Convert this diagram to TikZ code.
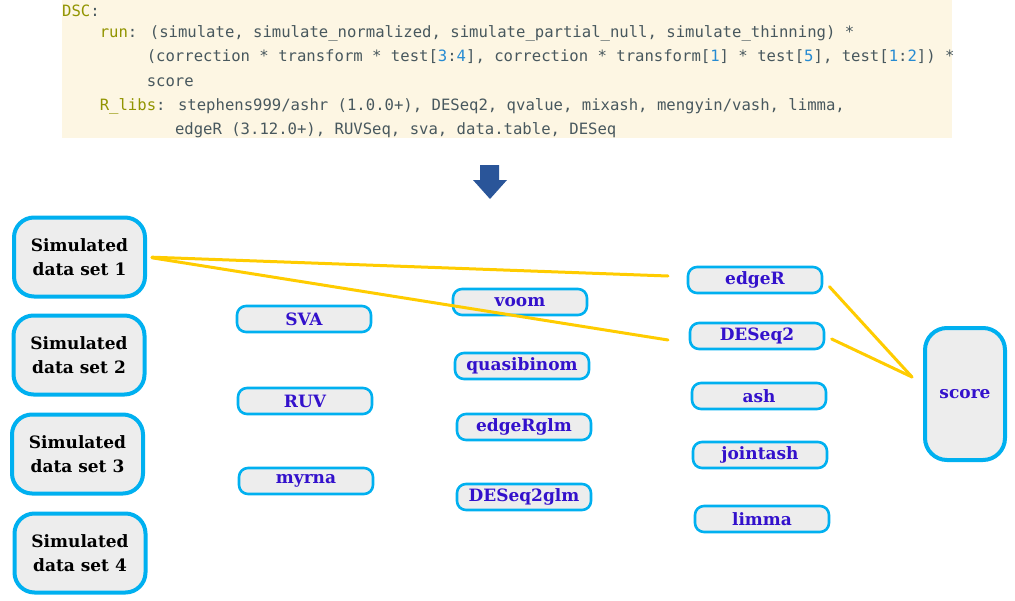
\documentclass[tikz,border=0pt]{standalone}
\usepackage{fontspec}
\setmainfont{DejaVu Serif}
\newfontfamily\codefont{DejaVu Sans Mono}
\definecolor{codebg}{RGB}{253,246,227}
\definecolor{codetxt}{RGB}{72,88,94}
\definecolor{codekey}{RGB}{145,148,0}
\definecolor{codenum}{RGB}{38,139,210}
\definecolor{boxline}{RGB}{0,176,240}
\definecolor{boxfill}{RGB}{237,237,237}
\definecolor{methodtxt}{RGB}{51,17,204}
\definecolor{linkgold}{RGB}{255,204,0}
\definecolor{arrowblue}{RGB}{42,85,153}
\newcommand{\kw}[1]{\textcolor{codekey}{#1}}
\newcommand{\nm}[1]{\textcolor{codenum}{#1}}
\begin{document}
\begin{tikzpicture}[x=1pt,y=-1pt,line cap=round,line join=round,
  codeline/.style={anchor=base west,inner sep=0pt,text=codetxt,font=\codefont\fontsize{15.6}{18}\selectfont},
  simbox/.style={draw=boxline,fill=boxfill,line width=4pt,rounded corners=20pt,minimum width=131pt,minimum height=79pt,align=center,font=\bfseries\fontsize{17}{24}\selectfont},
  testbox/.style={draw=boxline,fill=boxfill,line width=2.6pt,rounded corners=9pt,minimum width=134pt,minimum height=26pt,inner sep=0pt,text=methodtxt,font=\bfseries\fontsize{17}{20}\selectfont},
  scorebox/.style={draw=boxline,fill=boxfill,line width=4pt,rounded corners=22pt,minimum width=80pt,minimum height=132pt,text=methodtxt,font=\bfseries\fontsize{17}{20}\selectfont},
  link/.style={draw=linkgold,line width=3pt}]
\useasboundingbox (0,0) rectangle (1015,600);
\fill[codebg] (62,0) rectangle (952,138);
\node[codeline] (code0) at (62,16) {\kw{DSC}:};
\node[codeline] (code1) at (99.6,37) {\kw{run}: (simulate, simulate\_normalized, simulate\_partial\_null, simulate\_thinning) *};
\node[codeline] (code2) at (146.6,61.5) {(correction * transform * test[\nm{3}:\nm{4}], correction * transform[\nm{1}] * test[\nm{5}], test[\nm{1}:\nm{2}]) *};
\node[codeline] (code3) at (146.6,86) {score};
\node[codeline] (code4) at (99.6,110) {\kw{R\_libs}: stephens999/ashr (1.0.0+), DESeq2, qvalue, mixash, mengyin/vash, limma,};
\node[codeline] (code5) at (174.8,134) {edgeR (3.12.0+), RUVSeq, sva, data.table, DESeq};
\fill[arrowblue] (480,165) -- (499,165) -- (499,180) -- (507,180) -- (490,199) -- (473,180) -- (480,180) -- cycle;
\foreach \i/\x/\y in {1/79.5/257,2/79/355,3/77.5/454,4/80/553}
  \node[simbox] (sim\i) at (\x,\y) {Simulated\\data set \i};
\foreach \n/\x/\y in {SVA/304/319,RUV/305/401,myrna/306/481,voom/520/302,quasibinom/522/366,edgeRglm/524/427,DESeq2glm/524/497,edgeR/755/280,DESeq2/757/336,ash/759/396,jointash/760/455,limma/762/519}
  \node[testbox] (\n) at (\x,\y) {\n};
\node[scorebox] (score) at (965,394) {\raisebox{-4pt}{score}};
\coordinate (toEdgeR) at (668,276);
\coordinate (toDESeq2) at (668,340);
\coordinate (toScore) at (912,377);
\draw[link,shorten <=5pt] (sim1.east) -- (toEdgeR);
\draw[link,shorten <=5pt] (sim1.east) -- (toDESeq2);
\draw[link,shorten <=9pt] (edgeR.east) -- (toScore);
\draw[link,shorten <=7pt] (DESeq2.east) -- (toScore);
\end{tikzpicture}
\end{document}
